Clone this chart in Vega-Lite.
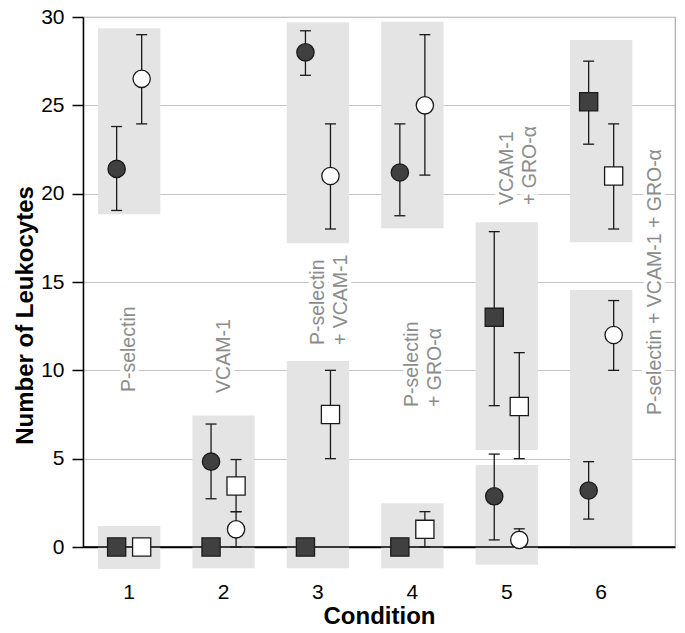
{
  "$schema": "https://vega.github.io/schema/vega-lite/v6.json",
  "width": 592,
  "height": 530,
  "autosize": {"type": "none"},
  "padding": {"left": 83, "top": 17, "right": 10, "bottom": 86},
  "background": "white",
  "config": {
    "view": {"stroke": "#a8a8a8", "strokeWidth": 1.2},
    "font": "Liberation Sans",
    "axis": {"labelFont": "Liberation Sans", "titleFont": "Liberation Sans"}
  },
  "datasets": {
    "boxes": [
      {"cond": 1, "top": 29.36, "bottom": 18.83},
      {"cond": 1, "top": 1.19, "bottom": -1.25},
      {"cond": 2, "top": 7.45, "bottom": -1.2},
      {"cond": 3, "top": 29.7, "bottom": 17.19},
      {"cond": 3, "top": 10.53, "bottom": -1.2},
      {"cond": 4, "top": 29.73, "bottom": 18.04},
      {"cond": 4, "top": 2.47, "bottom": -1.2},
      {"cond": 5, "top": 18.38, "bottom": 5.49},
      {"cond": 5, "top": 4.64, "bottom": -1.0},
      {"cond": 6, "top": 28.7, "bottom": 17.25},
      {"cond": 6, "top": 14.55, "bottom": 0}
    ],
    "points": [
      {"cond": 1, "side": "L", "shape": "circle", "tone": "dark", "value": 21.4, "lo": 19.05, "hi": 23.8},
      {"cond": 1, "side": "R", "shape": "circle", "tone": "open", "value": 26.5, "lo": 23.95, "hi": 29.0},
      {"cond": 1, "side": "L", "shape": "square", "tone": "dark", "value": 0},
      {"cond": 1, "side": "R", "shape": "square", "tone": "open", "value": 0},
      {"cond": 2, "side": "L", "shape": "circle", "tone": "dark", "value": 4.83, "lo": 2.73, "hi": 6.96},
      {"cond": 2, "side": "R", "shape": "circle", "tone": "open", "value": 1.0, "lo": 0, "hi": 2.0},
      {"cond": 2, "side": "L", "shape": "square", "tone": "dark", "value": 0},
      {"cond": 2, "side": "R", "shape": "square", "tone": "open", "value": 3.45, "lo": 2.0, "hi": 4.95},
      {"cond": 3, "side": "L", "shape": "circle", "tone": "dark", "value": 28.0, "lo": 26.7, "hi": 29.22},
      {"cond": 3, "side": "R", "shape": "circle", "tone": "open", "value": 21.0, "lo": 18.0, "hi": 23.95},
      {"cond": 3, "side": "L", "shape": "square", "tone": "dark", "value": 0},
      {"cond": 3, "side": "R", "shape": "square", "tone": "open", "value": 7.5, "lo": 5.0, "hi": 10.0},
      {"cond": 4, "side": "L", "shape": "circle", "tone": "dark", "value": 21.2, "lo": 18.75, "hi": 23.95},
      {"cond": 4, "side": "R", "shape": "circle", "tone": "open", "value": 25.0, "lo": 21.05, "hi": 29.0},
      {"cond": 4, "side": "L", "shape": "square", "tone": "dark", "value": 0},
      {"cond": 4, "side": "R", "shape": "square", "tone": "open", "value": 1.0, "lo": 0, "hi": 2.0},
      {"cond": 5, "side": "L", "shape": "square", "tone": "dark", "value": 13.0, "lo": 8.0, "hi": 17.85},
      {"cond": 5, "side": "R", "shape": "square", "tone": "open", "value": 7.95, "lo": 5.0, "hi": 11.0},
      {"cond": 5, "side": "L", "shape": "circle", "tone": "dark", "value": 2.87, "lo": 0.4, "hi": 5.26},
      {"cond": 5, "side": "R", "shape": "circle", "tone": "open", "value": 0.4, "lo": 0.4, "hi": 1.03},
      {"cond": 6, "side": "L", "shape": "square", "tone": "dark", "value": 25.2, "lo": 22.8, "hi": 27.5},
      {"cond": 6, "side": "R", "shape": "square", "tone": "open", "value": 21.0, "lo": 18.0, "hi": 23.95},
      {"cond": 6, "side": "L", "shape": "circle", "tone": "dark", "value": 3.2, "lo": 1.58, "hi": 4.83},
      {"cond": 6, "side": "R", "shape": "circle", "tone": "open", "value": 12.0, "lo": 10.0, "hi": 13.95}
    ],
    "labels": [
      {"cond": 1, "lines": ["P-selectin"], "start": 8.77},
      {"cond": 2, "lines": ["VCAM-1"], "start": 8.72},
      {"cond": 3, "lines": ["P-selectin", "+ VCAM-1"], "start": 11.43},
      {"cond": 4, "lines": ["P-selectin", "+ GRO-α"], "start": 7.92},
      {"cond": 5, "lines": ["VCAM-1", "+ GRO-α"], "start": 19.36}
    ],
    "labels6": [
      {"cond": 6, "lines": ["P-selectin + VCAM-1 + GRO-α"], "start": 7.47}
    ]
  },
  "layer": [
    {
      "data": {"name": "boxes"},
      "mark": {"type": "bar", "color": "#e4e4e4"},
      "encoding": {
        "x": {
          "field": "cond", "type": "ordinal",
          "scale": {"paddingInner": 0.34, "paddingOuter": 0.3055, "align": 0.26, "round": false},
          "axis": {
            "title": "Condition", "labelAngle": 0, "ticks": false,
            "domain": true, "domainColor": "black", "domainWidth": 1.5,
            "labelFontSize": 21, "labelColor": "black", "labelPadding": 34,
            "titleFontSize": 24, "titleFontWeight": "bold", "titleColor": "black", "titlePadding": 2
          }
        },
        "y": {
          "field": "top", "type": "quantitative",
          "scale": {"domain": [0, 30], "nice": false, "zero": false},
          "axis": {
            "title": "Number of Leukocytes", "values": [0, 5, 10, 15, 20, 25, 30],
            "grid": true, "gridColor": "#c4c4c4", "gridWidth": 1,
            "domainColor": "black", "domainWidth": 1.5,
            "ticks": true, "tickColor": "black", "tickSize": 11, "tickWidth": 1.5,
            "labelFontSize": 21, "labelColor": "black", "labelPadding": 8,
            "titleFontSize": 24, "titleFontWeight": "bold", "titleColor": "black",
            "titlePadding": 3, "titleY": 298
          }
        },
        "y2": {"field": "bottom"}
      }
    },
    {
      "data": {"name": "labels"},
      "mark": {"type": "text", "angle": 270, "align": "left", "baseline": "middle", "fontSize": 19.5, "lineHeight": 23, "stroke": "white", "strokeWidth": 8, "fill": "white"},
      "encoding": {
        "x": {"field": "cond", "type": "ordinal"},
        "y": {"field": "start", "type": "quantitative"},
        "text": {"field": "lines"}
      }
    },
    {
      "data": {"name": "labels6"},
      "mark": {"type": "text", "angle": 270, "align": "left", "baseline": "middle", "fontSize": 19.5, "dy": 54, "stroke": "white", "strokeWidth": 8, "fill": "white"},
      "encoding": {
        "x": {"field": "cond", "type": "ordinal"},
        "y": {"field": "start", "type": "quantitative"},
        "text": {"field": "lines"}
      }
    },
    {
      "data": {"name": "labels"},
      "mark": {"type": "text", "angle": 270, "align": "left", "baseline": "middle", "fontSize": 19.5, "lineHeight": 23, "color": "#8c8c8c"},
      "encoding": {
        "x": {"field": "cond", "type": "ordinal"},
        "y": {"field": "start", "type": "quantitative"},
        "text": {"field": "lines"}
      }
    },
    {
      "data": {"name": "labels6"},
      "mark": {"type": "text", "angle": 270, "align": "left", "baseline": "middle", "fontSize": 19.5, "dy": 54, "color": "#8c8c8c"},
      "encoding": {
        "x": {"field": "cond", "type": "ordinal"},
        "y": {"field": "start", "type": "quantitative"},
        "text": {"field": "lines"}
      }
    },
    {
      "data": {"values": [{"zero": 0}]},
      "mark": {"type": "rule", "color": "black", "strokeWidth": 1.5},
      "encoding": {"y": {"field": "zero", "type": "quantitative"}}
    },
    {
      "data": {"name": "points"},
      "mark": {"type": "rule", "color": "#1a1a1a", "strokeWidth": 1.3},
      "encoding": {
        "x": {"field": "cond", "type": "ordinal"},
        "xOffset": {"field": "side", "type": "nominal", "scale": {"domain": ["L", "R"], "paddingInner": 0, "paddingOuter": 0.245}},
        "y": {"field": "lo", "type": "quantitative"},
        "y2": {"field": "hi"}
      }
    },
    {
      "data": {"name": "points"},
      "mark": {"type": "tick", "color": "#1a1a1a", "size": 11, "thickness": 1.3, "orient": "horizontal", "opacity": 1},
      "encoding": {
        "x": {"field": "cond", "type": "ordinal"},
        "xOffset": {"field": "side", "type": "nominal"},
        "y": {"field": "lo", "type": "quantitative"}
      }
    },
    {
      "data": {"name": "points"},
      "mark": {"type": "tick", "color": "#1a1a1a", "size": 11, "thickness": 1.3, "orient": "horizontal", "opacity": 1},
      "encoding": {
        "x": {"field": "cond", "type": "ordinal"},
        "xOffset": {"field": "side", "type": "nominal"},
        "y": {"field": "hi", "type": "quantitative"}
      }
    },
    {
      "data": {"name": "points"},
      "mark": {"type": "point", "filled": true, "opacity": 1, "stroke": "#1a1a1a", "strokeWidth": 1.3},
      "encoding": {
        "x": {"field": "cond", "type": "ordinal"},
        "xOffset": {"field": "side", "type": "nominal"},
        "y": {"field": "value", "type": "quantitative"},
        "shape": {"field": "shape", "type": "nominal", "scale": {"domain": ["circle", "square"], "range": ["circle", "square"]}, "legend": null},
        "fill": {"field": "tone", "type": "nominal", "scale": {"domain": ["dark", "open"], "range": ["#404040", "#ffffff"]}, "legend": null},
        "size": {"field": "shape", "type": "nominal", "scale": {"domain": ["circle", "square"], "range": [300, 330]}, "legend": null}
      }
    }
  ]
}
